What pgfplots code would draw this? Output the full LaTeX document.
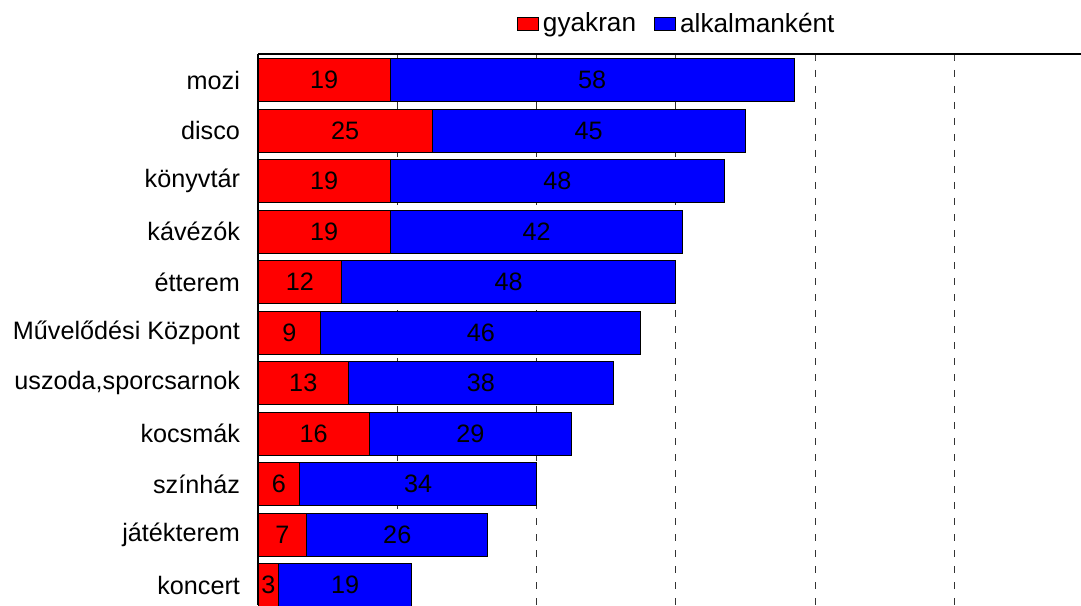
\documentclass[border=0pt]{standalone}
\usepackage{pgfplots}
\pgfplotsset{compat=1.18}
\usepackage{fontspec}
\setmainfont{Liberation Sans}
\begin{document}
\begin{tikzpicture}[font=\fontsize{12.6}{14}\selectfont]
\useasboundingbox (0,0) rectangle (540.5pt,302.5pt);
\clip (0,0) rectangle (540.5pt,302.5pt);
\begin{axis}[
  at={(129pt,0pt)}, anchor=south west,
  scale only axis,
  width=411.5pt, height=275.5pt,
  xmin=0, xmax=118.2,
  ymin=-0.515, ymax=10.396,
  y dir=reverse,
  xbar stacked,
  bar width=21.5pt,
  /pgf/number format/assume math mode=true,
  axis x line*=top,
  axis y line*=left,
  axis line style={black, line width=0.8pt},
  xtick={20,40,60,80,100},
  xticklabels={},
  major tick length=3pt,
  tick align=inside,
  tick style={black!70, line width=0.5pt},
  xmajorgrids,
  grid style={black!80, line width=0.5pt, dash pattern=on 3.5pt off 4.5pt},
  ytick={0,...,10},
  yticklabels={mozi,disco,könyvtár,kávézók,étterem,Művelődési Központ,{uszoda,sporcsarnok},kocsmák,színház,játékterem,koncert},
  y tick label style={font=\fontsize{12.6}{14}\selectfont, xshift=-5.5pt},
  y tick style={draw=none},
  nodes near coords,
  nodes near coords align={center},
  every node near coord/.append style={font=\fontsize{12.6}{14}\selectfont, black},
  legend columns=2,
  legend style={draw=none, fill=none, at={(0.51,1)}, anchor=center, yshift=15pt,
    font=\fontsize{13.1}{15}\selectfont,
    /tikz/every even column/.append style={column sep=7pt},
    inner sep=0pt, cells={anchor=west}},
  legend image code/.code={\draw[#1, draw=black, line width=0.5pt] (0pt,-3.25pt) rectangle (10.5pt,3.25pt);},
  clip=false,
]
\addplot+[fill=red, draw=black, line width=0.5pt] coordinates {
(19,0) (25,1) (19,2) (19,3) (12,4) (9,5) (13,6) (16,7) (6,8) (7,9) (3,10)};
\addplot+[fill=blue, draw=black, line width=0.5pt] coordinates {
(58,0) (45,1) (48,2) (42,3) (48,4) (46,5) (38,6) (29,7) (34,8) (26,9) (19,10)};
\legend{gyakran,alkalmanként}
\end{axis}
\end{tikzpicture}
\end{document}
